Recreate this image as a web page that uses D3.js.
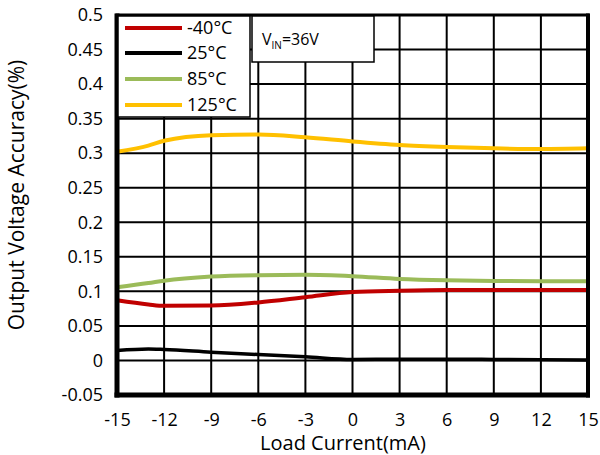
<!DOCTYPE html>
<html><head><meta charset="utf-8">
<script src="https://cdn.jsdelivr.net/npm/d3@7"></script>
<style>body{margin:0;background:#fff}svg{display:block}text{font-family:"Open Sans",sans-serif;fill:#000}</style>
</head><body>
<svg id="c" width="600" height="455"></svg>
<script>
const loadCurrent = [-15, -13, -12, -9, -6, -3, 0, 3, 6, 9, 12, 15];
const seriesNames = ["-40°C", "25°C", "85°C", "125°C"];
const seriesColors = ["#c00000", "#000000", "#9bbb59", "#ffc000"];
const valsM40 = [0.087, 0.081, 0.079, 0.0795, 0.084, 0.0915, 0.099, 0.101, 0.102, 0.102, 0.102, 0.102];
const vals25  = [0.0145, 0.0167, 0.016, 0.012, 0.0085, 0.0053, 0.0015, 0.0017, 0.0017, 0.0015, 0.0012, 0.0005];
const vals85  = [0.106, 0.112, 0.1155, 0.1215, 0.1235, 0.124, 0.122, 0.118, 0.116, 0.115, 0.1145, 0.1145];
const vals125 = [0.302, 0.311, 0.318, 0.326, 0.327, 0.323, 0.317, 0.312, 0.309, 0.307, 0.306, 0.307];
const xTicks = [-15, -12, -9, -6, -3, 0, 3, 6, 9, 12, 15];
const xTickLabels = ["-15", "-12", "-9", "-6", "-3", "0", "3", "6", "9", "12", "15"];
const yTicks = [-0.05, 0, 0.05, 0.1, 0.15, 0.2, 0.25, 0.3, 0.35, 0.4, 0.45, 0.5];
const yTickLabels = ["-0.05", "0", "0.05", "0.1", "0.15", "0.2", "0.25", "0.3", "0.35", "0.4", "0.45", "0.5"];

const svg = d3.select("#c");
const L = 117, R = 588, T = 15, B = 395;
const x = d3.scaleLinear().domain([-15, 15]).range([L, R]);
const y = d3.scaleLinear().domain([-0.05, 0.5]).range([B, T]);

// grid
svg.append("g").selectAll("line").data(xTicks).join("line")
  .attr("x1", d => x(d)).attr("x2", d => x(d)).attr("y1", T).attr("y2", B)
  .attr("stroke", "#000").attr("stroke-width", 2);
svg.append("g").selectAll("line").data(yTicks).join("line")
  .attr("x1", L).attr("x2", R).attr("y1", d => y(d)).attr("y2", d => y(d))
  .attr("stroke", "#000").attr("stroke-width", 2);

// axes labels via d3 axes
const xAxis = d3.axisBottom(x).tickValues(xTicks).tickSize(0).tickPadding(18).tickFormat((d, i) => xTickLabels[i]);
const gx = svg.append("g").attr("transform", `translate(0,${B})`).call(xAxis);
gx.select(".domain").remove();
gx.selectAll("text").style("font-size", "18px").style("font-family", "'Open Sans',sans-serif");
const yAxis = d3.axisLeft(y).tickValues(yTicks).tickSize(0).tickPadding(14).tickFormat((d, i) => yTickLabels[i]);
const gy = svg.append("g").attr("transform", `translate(${L},0)`).call(yAxis);
gy.select(".domain").remove();
gy.selectAll("text").style("font-size", "18px").style("font-family", "'Open Sans',sans-serif");

// lines
const allVals = [valsM40, vals25, vals85, vals125];
const line = d3.line().x((d, i) => x(loadCurrent[i])).y(d => y(d)).curve(d3.curveMonotoneX);
allVals.forEach((v, k) => {
  svg.append("path").datum(v).attr("d", line).attr("fill", "none")
    .attr("stroke", seriesColors[k]).attr("stroke-width", k === 1 ? 3.5 : 4);
});

// border
svg.append("rect").attr("x", L).attr("y", T).attr("width", R - L).attr("height", B - T)
  .attr("fill", "none").attr("stroke", "#000").attr("stroke-width", 3);
svg.append("line").attr("x1", L).attr("x2", L).attr("y1", T - 1.5).attr("y2", B + 2.5).attr("stroke", "#000").attr("stroke-width", 5);
svg.append("line").attr("x1", L - 2.5).attr("x2", R + 2).attr("y1", B).attr("y2", B).attr("stroke", "#000").attr("stroke-width", 5);
svg.append("line").attr("x1", R).attr("x2", R).attr("y1", T - 1.5).attr("y2", B + 2.5).attr("stroke", "#000").attr("stroke-width", 4);

// legend
const lg = svg.append("g");
lg.append("rect").attr("x", L + 1).attr("y", T + 1).attr("width", 132).attr("height", 101)
  .attr("fill", "#fff").attr("stroke", "#000").attr("stroke-width", 1.5);
const rowY = [28, 53, 79, 105];
seriesNames.forEach((n, k) => {
  lg.append("line").attr("x1", 125).attr("x2", 182).attr("y1", rowY[k]).attr("y2", rowY[k])
    .attr("stroke", seriesColors[k]).attr("stroke-width", 4);
  lg.append("text").attr("x", 187).attr("y", rowY[k] + 6).style("font-size", "18px").text(n);
});

// VIN box
svg.append("rect").attr("x", 252).attr("y", T + 1).attr("width", 122).attr("height", 46)
  .attr("fill", "#fff").attr("stroke", "#000").attr("stroke-width", 1.5);
const vt = svg.append("text").attr("x", 262).attr("y", 45).style("font-size", "16px");
vt.append("tspan").text("V");
vt.append("tspan").attr("dy", 4).style("font-size", "10px").text("IN");
vt.append("tspan").attr("dy", -4).text("=36V");

// titles
svg.append("text").attr("x", 343).attr("y", 450).attr("text-anchor", "middle").style("font-size", "20px").text("Load Current(mA)");
svg.append("text").attr("transform", "translate(24,195) rotate(-90)").attr("text-anchor", "middle").style("font-size", "21px").text("Output Voltage Accuracy(%)");
</script>
</body></html>
